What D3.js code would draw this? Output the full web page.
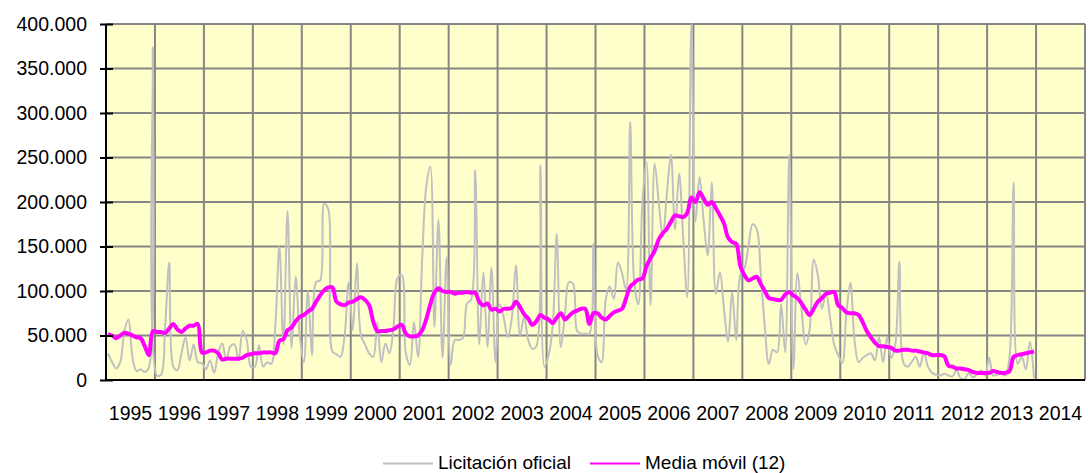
<!DOCTYPE html>
<html>
<head>
<meta charset="utf-8">
<script src="https://cdn.jsdelivr.net/npm/d3@7"></script>
<style>
    body { margin: 0; background: #ffffff; }
    svg text { font-family: "Liberation Sans", Arial, sans-serif; fill: #000; }
</style>
</head>
<body>
<div id="chart"></div>
<script>
// category labels (one band per year, 12 months each)
var years = ["1995","1996","1997","1998","1999","2000","2001","2002","2003","2004",
             "2005","2006","2007","2008","2009","2010","2011","2012","2013","2014"];

var yTicks = [0, 50000, 100000, 150000, 200000, 250000, 300000, 350000, 400000];

// monthly values, Jan 1995 - Dec 2013
var licitacion = [
    30000,20000,13000,20000,55000,68000,25000,10000,12000,9000,14000,374000,
    5000,6000,60000,132000,15000,11000,30000,48000,22000,40000,20000,19000,
    12000,22000,8000,30000,41000,22000,38000,40000,22000,55000,45000,15000,
    15000,39000,15000,20000,18000,60000,150000,40000,190000,36000,116000,50000,
    20000,100000,28000,110000,112000,198000,192000,32000,29000,26000,50000,110000,
    56000,131000,50000,40000,30000,26000,65000,20000,41000,30000,60000,115000,
    118000,30000,17000,65000,26000,135000,217000,240000,60000,180000,25000,138000,
    17000,45000,45000,47000,86000,90000,236000,40000,121000,37000,126000,20000,
    85000,70000,48000,70000,129000,50000,71000,45000,35000,38000,241000,15000,
    28000,60000,164000,37000,73000,110000,108000,55000,52000,52000,52000,153000,
    28000,20000,90000,105000,91000,132000,120000,102000,290000,110000,85000,200000,
    245000,84000,243000,200000,161000,210000,253000,169000,232000,160000,93000,400000,
    178000,228000,180000,140000,222000,97000,121000,80000,43000,99000,45000,118000,
    125000,150000,175000,170000,120000,60000,18000,34000,31000,85000,31000,253000,
    12000,120000,80000,40000,57000,135000,118000,80000,98000,70000,40000,28000,
    19000,75000,109000,45000,20000,25000,28000,30000,22000,48000,20000,48000,
    25000,40000,133000,19000,15000,20000,26000,15000,31000,15000,8000,6000,
    5000,7000,5000,4000,11000,2000,1000,8000,3000,6000,11000,5000,
    25000,5000,6000,7000,5000,26000,222000,18000,26000,12000,43000,2000
];

var mediaMovil = [
    51000,50000,47000,50000,53000,52000,50000,48000,47000,38000,28000,55000,
    54000,54000,53000,58000,63000,57000,54000,58000,61000,61000,63000,31000,
    31000,33000,33000,30000,23000,24000,24000,24000,24000,25000,28000,29000,
    30000,30000,31000,31000,31000,30000,44000,46000,56000,59000,66000,71000,
    73000,77000,80000,88000,95000,101000,104000,104000,88000,85000,84000,87000,
    88000,91000,93000,90000,84000,66000,55000,55000,55000,56000,57000,60000,
    62000,52000,49000,49000,50000,56000,68000,85000,98000,103000,100000,99000,
    99000,97000,98000,98000,99000,98000,98000,88000,84000,86000,79000,80000,
    77000,80000,80000,81000,88000,82000,74000,69000,62000,66000,73000,70000,
    68000,64000,70000,75000,68000,72000,76000,78000,80000,80000,63000,75000,
    75000,70000,68000,72000,76000,78000,80000,92000,105000,109000,113000,114000,
    128000,137000,145000,158000,165000,170000,178000,185000,184000,183000,188000,205000,
    200000,211000,204000,197000,200000,193000,185000,176000,160000,155000,153000,128000,
    118000,112000,114000,116000,108000,100000,92000,91000,90000,90000,96000,99000,
    95000,92000,86000,79000,73000,80000,88000,92000,97000,98000,99000,84000,
    81000,76000,75000,75000,73000,65000,55000,48000,42000,38000,38000,37000,
    36000,33000,33000,34000,34000,33000,33000,32000,31000,30000,28000,28000,
    28000,27000,16000,15000,13000,13000,12000,11000,9000,8000,8000,8000,
    8000,10000,9000,8000,8000,10000,26000,28000,29000,30000,31000,32000
];

var margin = {top: 24, right: 3, bottom: 93, left: 106};
var width = 1088 - margin.left - margin.right;
var height = 473 - margin.top - margin.bottom;

var es = d3.formatLocale({decimal: ",", thousands: ".", grouping: [3], currency: ["", " €"]});
var fmt = es.format(",d");

var svg = d3.select("#chart").append("svg")
    .attr("width", 1088)
    .attr("height", 473);

var g = svg.append("g")
    .attr("transform", "translate(" + margin.left + "," + margin.top + ")");

// scales
var xYear = d3.scaleBand().domain(years).range([0, width]);
var xMonth = d3.scaleLinear().domain([0, years.length * 12]).range([0, width]);
var y = d3.scaleLinear().domain([0, 400000]).range([height, 0]);

// plot background
g.append("rect")
    .attr("width", width)
    .attr("height", height)
    .attr("fill", "#ffffcc");

// horizontal gridlines
g.append("g")
    .selectAll("line")
    .data(yTicks)
    .enter().append("line")
    .attr("x1", 0).attr("x2", width)
    .attr("y1", function(d) { return y(d); })
    .attr("y2", function(d) { return y(d); })
    .attr("stroke", "#868686")
    .attr("stroke-width", 2);

// vertical gridlines between year bands
g.append("g")
    .selectAll("line")
    .data(years.slice(1).concat(["end"]))
    .enter().append("line")
    .attr("x1", function(d) { return d === "end" ? width : xYear(d); })
    .attr("x2", function(d) { return d === "end" ? width : xYear(d); })
    .attr("y1", 0).attr("y2", height)
    .attr("stroke", "#868686")
    .attr("stroke-width", 2);

g.append("clipPath").attr("id", "plot-clip")
    .append("rect").attr("x", 0).attr("y", -2).attr("width", width).attr("height", height + 2);

var line = function(values) {
    return d3.line()
        .x(function(d, i) { return xMonth(i + 0.5); })
        .y(function(d) { return y(d); })
        .curve(d3.curveCatmullRom.alpha(0.5))(values);
};

g.append("path")
    .attr("clip-path", "url(#plot-clip)")
    .attr("d", line(licitacion))
    .attr("fill", "none")
    .attr("stroke", "#c0c0c0")
    .attr("stroke-width", 2);

g.append("path")
    .attr("clip-path", "url(#plot-clip)")
    .attr("d", line(mediaMovil))
    .attr("fill", "none")
    .attr("stroke", "#ff00ff")
    .attr("stroke-width", 4)
    .attr("stroke-linejoin", "round");

// y axis
var yAxis = d3.axisLeft(y).tickValues(yTicks).tickFormat(fmt).tickSize(6).tickPadding(14);
var ya = g.append("g").call(yAxis);
ya.select(".domain").remove();
ya.selectAll(".tick line").attr("x2", 7).attr("x1", -6).attr("stroke", "#000").attr("stroke-width", 2);
ya.selectAll(".tick text").attr("x", -19).style("font-size", "19.5px");

// x axis labels
var xAxis = d3.axisBottom(xYear).tickSize(0).tickPadding(26);
var xa = g.append("g").attr("transform", "translate(0," + height + ")").call(xAxis);
xa.select(".domain").remove();
xa.selectAll(".tick text").style("font-size", "19.5px");

// axis lines
g.append("line").attr("x1", 0).attr("x2", 0).attr("y1", 0).attr("y2", height)
    .attr("stroke", "#000").attr("stroke-width", 2);
g.append("line").attr("x1", 0).attr("x2", width).attr("y1", height).attr("y2", height)
    .attr("stroke", "#000").attr("stroke-width", 2);

// legend
var legend = svg.append("g");
var items = [
    {name: "Licitación oficial", color: "#c0c0c0", x: 383},
    {name: "Media móvil (12)", color: "#ff00ff", x: 590}
];
items.forEach(function(it) {
    legend.append("line")
        .attr("x1", it.x).attr("x2", it.x + 50)
        .attr("y1", 463.5).attr("y2", 463.5)
        .attr("stroke", it.color).attr("stroke-width", 2);
    legend.append("text")
        .attr("x", it.x + 55).attr("y", 469)
        .style("font-size", "19px")
        .text(it.name);
});
</script>
</body>
</html>
